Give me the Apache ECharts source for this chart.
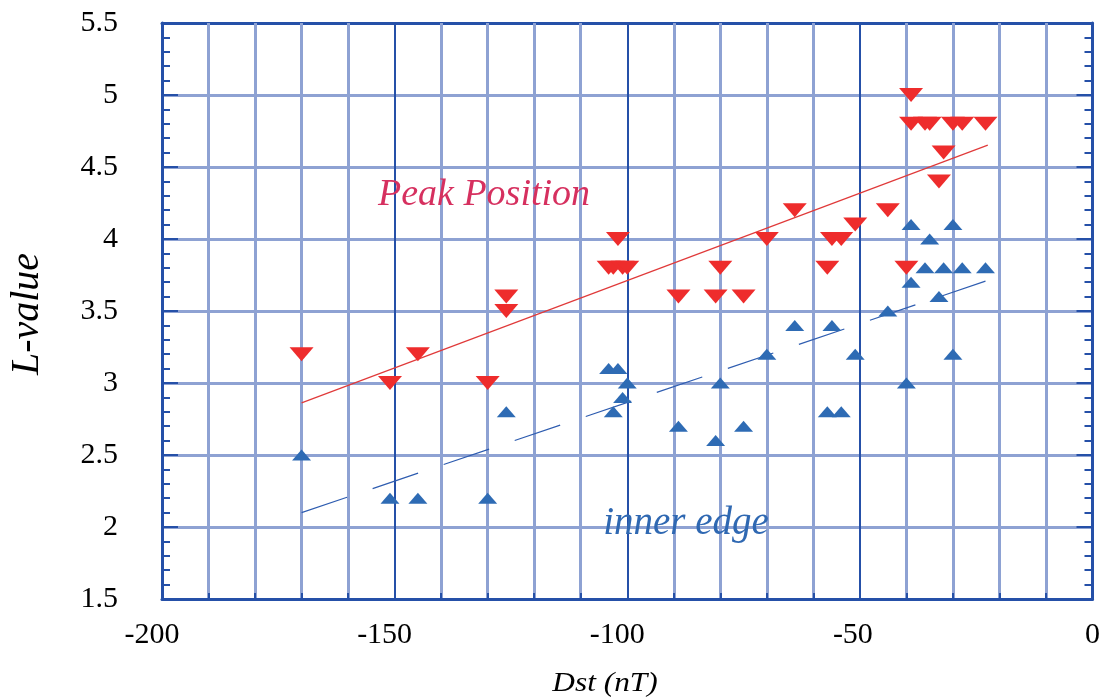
<!DOCTYPE html>
<html>
<head>
<meta charset="utf-8">
<script src="https://cdn.jsdelivr.net/npm/echarts@6/dist/echarts.min.js"></script>
<style>
  html, body { margin: 0; padding: 0; background: #fff; }
  #chart { width: 1103px; height: 699px; }
</style>
</head>
<body>
<div id="chart"></div>
<script>
// peak position (red, down triangles): [Dst, L]
const peakPoints = [
  [-170, 3.2], [-151, 3.0], [-145, 3.2], [-130, 3.0], [-126, 3.6], [-126, 3.5],
  [-104, 3.8], [-103, 3.8], [-101, 3.8], [-100, 3.8], [-102, 4.0],
  [-89, 3.6], [-81, 3.6], [-75, 3.6], [-80, 3.8], [-70, 4.0], [-64, 4.2],
  [-57, 3.8], [-56, 4.0], [-54, 4.0], [-51, 4.1], [-44, 4.2], [-40, 3.8],
  [-39, 5.0], [-39, 4.8], [-36, 4.8], [-35, 4.8], [-33, 4.4], [-32, 4.6],
  [-30, 4.8], [-28, 4.8], [-23, 4.8]
];
// inner edge (blue, up triangles): [Dst, L]
const innerPoints = [
  [-170, 2.5], [-151, 2.2], [-145, 2.2], [-130, 2.2], [-126, 2.8],
  [-104, 3.1], [-102, 3.1], [-103, 2.8], [-101, 2.9], [-100, 3.0],
  [-89, 2.7], [-81, 2.6], [-80, 3.0], [-75, 2.7], [-70, 3.2], [-64, 3.4],
  [-57, 2.8], [-54, 2.8], [-56, 3.4], [-51, 3.2], [-44, 3.5], [-40, 3.0],
  [-39, 4.1], [-39, 3.7], [-35, 4.0], [-36, 3.8], [-33, 3.6], [-32, 3.8],
  [-30, 4.1], [-30, 3.2], [-28, 3.8], [-23, 3.8]
];
// linear fits
const peakFit = [[-170, 2.862], [-22.5, 4.652]];
const innerFit = [[-170, 2.10], [-23, 3.707]];

const xTicks = [-200, -150, -100, -50, 0];
const yTicks = [1.5, 2, 2.5, 3, 3.5, 4, 4.5, 5, 5.5];

const frame = '#2550a8';
const light = '#8ea2d3';
const serif = '"Liberation Serif", "DejaVu Serif", serif';
const tickFont = 30;

const chart = echarts.init(document.getElementById('chart'));

const xBase = {
  type: 'value',
  min: xTicks[0],
  max: xTicks[xTicks.length - 1],
  interval: 50,
  axisLine: { show: true, onZero: false, lineStyle: { color: frame, width: 3 } },
  axisTick: { show: true, inside: true, length: 6, lineStyle: { color: frame, width: 2 } },
  minorTick: { show: true, splitNumber: 5, length: 6, lineStyle: { color: frame, width: 2 } }
};
const yBase = {
  type: 'value',
  min: yTicks[0],
  max: yTicks[yTicks.length - 1],
  interval: 0.5,
  axisLine: { show: true, onZero: false, lineStyle: { color: frame, width: 3 } },
  axisTick: { show: true, inside: true, length: 16, lineStyle: { color: frame, width: 2 } },
  minorTick: { show: true, splitNumber: 5, length: 8, lineStyle: { color: frame, width: 2 } }
};

const option = {
  animation: false,
  backgroundColor: '#fff',
  grid: { left: 162, right: 8, top: 23, bottom: 100, containLabel: false },
  xAxis: [
    Object.assign({}, xBase, {
      position: 'bottom',
      axisLabel: {
        margin: 21,
        color: '#000',
        fontFamily: serif,
        fontSize: tickFont,
        formatter: (v) => {
          if (v === 0) return '0';
          return (String(v).length > 3 ? '{a|' : '{b|') + v + '}';
        },
        rich: {
          a: { fontFamily: serif, fontSize: tickFont, color: '#000', padding: [0, 20, 0, 0] },
          b: { fontFamily: serif, fontSize: tickFont, color: '#000', padding: [0, 14, 0, 0] }
        }
      },
      splitLine: { show: true, lineStyle: { color: frame, width: 2 } },
      minorSplitLine: { show: true, lineStyle: { color: light, width: 3 } },
      z: 1
    }),
    Object.assign({}, xBase, {
      position: 'top',
      axisLabel: { show: false },
      splitLine: { show: false }
    })
  ],
  yAxis: [
    Object.assign({}, yBase, {
      position: 'left',
      axisLabel: {
        margin: 44,
        color: '#000',
        fontFamily: serif,
        fontSize: tickFont,
        formatter: (v) => String(v)
      },
      splitLine: { show: true, lineStyle: { color: light, width: 3 } }
    }),
    Object.assign({}, yBase, {
      position: 'right',
      axisLabel: { show: false },
      splitLine: { show: false }
    })
  ],
  series: [
    {
      type: 'line',
      data: peakFit,
      showSymbol: false,
      symbol: 'none',
      lineStyle: { color: '#e03a3a', width: 1.2 },
      z: 3
    },
    {
      type: 'line',
      data: innerFit,
      showSymbol: false,
      symbol: 'none',
      lineStyle: { color: '#2f5db0', width: 1.2, type: [48, 27] },
      z: 3
    },
    {
      type: 'scatter',
      data: peakPoints,
      symbol: 'triangle',
      symbolRotate: 180,
      symbolSize: [24, 14],
      itemStyle: { color: '#ee2c2c', opacity: 1 },
      z: 4
    },
    {
      type: 'scatter',
      data: innerPoints,
      symbol: 'triangle',
      symbolSize: [19, 11],
      itemStyle: { color: '#2e6bb4', opacity: 1 },
      z: 4
    }
  ],
  graphic: [
    {
      type: 'text', x: 484, y: 195, z: 10,
      style: { text: 'Peak Position', font: 'italic 38px ' + serif, fill: '#d6305f', align: 'center', verticalAlign: 'middle' }
    },
    {
      type: 'text', x: 686, y: 524, z: 10,
      style: { text: 'inner edge', font: 'italic 39px ' + serif, fill: '#2f68b2', align: 'center', verticalAlign: 'middle' }
    },
    {
      type: 'text', x: 27, y: 314, rotation: Math.PI / 2, z: 10,
      style: { text: 'L-value', font: 'italic 40px ' + serif, fill: '#000', align: 'center', verticalAlign: 'middle' }
    },
    {
      type: 'text', x: 605, y: 684, scaleX: 1.12, z: 10,
      style: { text: 'Dst (nT)', font: 'italic 28px ' + serif, fill: '#000', align: 'center', verticalAlign: 'middle' }
    }
  ]
};

chart.setOption(option);
</script>
</body>
</html>
